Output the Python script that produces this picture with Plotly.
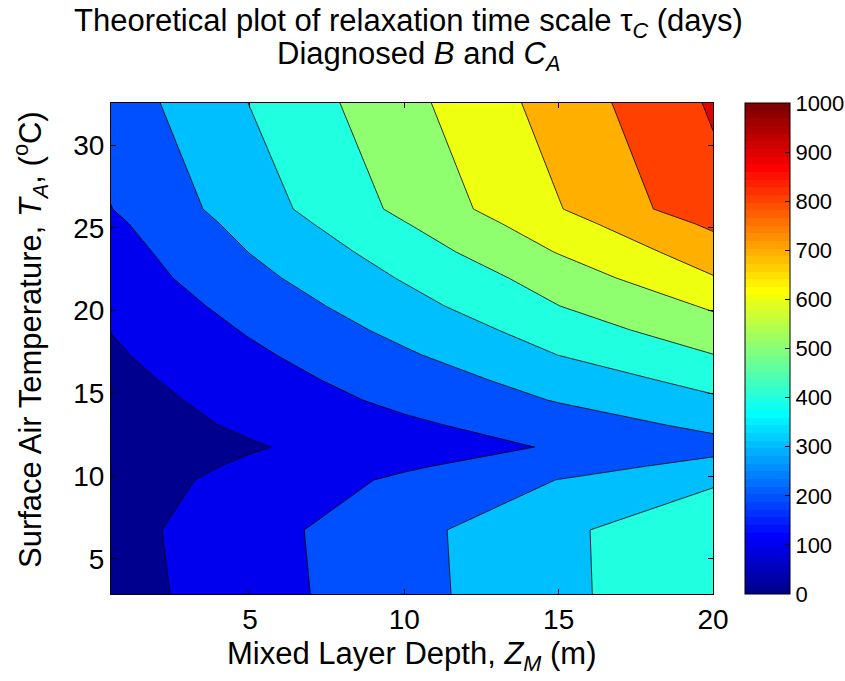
import plotly.graph_objects as go

# Grid columns: mixed layer depth Z_M (m)
zm = [0.5, 5, 10, 15, 20]
# Grid rows: surface air temperature T_A (deg C)
ta = [2.87, 6.74, 9.76, 10.60, 11.75, 13.08, 14.59, 15.80,
      17.32, 18.83, 20.28, 21.97, 23.54, 25.24, 26.14, 32.55]
# Relaxation time scale tau_C (days), one row per temperature
tau = [
    [58, 157, 267, 376, 486],
    [64, 162, 270, 378, 486],
    [53, 131, 217, 302, 384],
    [48, 114, 187, 259, 331],
    [40, 92, 151, 209, 267],
    [53, 114, 182, 251, 321],
    [60, 137, 223, 306, 385],
    [71, 157, 250, 341, 434],
    [87, 182, 287, 401, 498],
    [102, 209, 327, 447, 561],
    [120, 237, 365, 499, 612],
    [142, 272, 408, 544, 694],
    [157, 302, 447, 605, 750],
    [180, 333, 495, 660, 818],
    [198, 352, 523, 695, 866],
    [244, 402, 570, 741, 912],
]
level_start, level_end, level_step = 0, 1000, 100
x_ticks = [5, 10, 15, 20]
y_ticks = [5, 10, 15, 20, 25, 30]
cbar_ticks = list(range(0, 1001, 100))

FONT = "Liberation Sans, Arial, Helvetica, sans-serif"
W, H = 845, 681
ML, MR, MT, MB = 111, 132, 103, 87
PW, PH = W - ML - MR, H - MT - MB
CB_LEFT, CB_WIDTH = 745, 45


def jet(m=64):
    """MATLAB-style jet colormap with m entries, as (r, g, b) in 0..1."""
    q = m // 4
    cols = []
    for k in range(1, m + 1):
        if k <= q // 2:
            r, g, b = 0, 0, (q // 2 + k) / q
        elif k <= q // 2 + q:
            r, g, b = 0, (k - q // 2) / q, 1
        elif k <= q // 2 + 2 * q:
            t = (k - q // 2 - q) / q
            r, g, b = t, 1, 1 - t
        elif k <= q // 2 + 3 * q:
            r, g, b = 1, 1 - (k - q // 2 - 2 * q) / q, 0
        else:
            r, g, b = 1 - (k - q // 2 - 3 * q) / q, 0, 0
        cols.append((r, g, b))
    return cols


def rgb(c):
    return "rgb(%d,%d,%d)" % tuple(round(255 * v) for v in c)


def px_x(px):
    """Horizontal pixel position -> paper coordinate."""
    return (px - ML) / PW


def px_y(py):
    """Vertical pixel position (from top) -> paper coordinate."""
    return (H - MB - py) / PH


cmap = jet(64)

# Colour of each filled band = colormap entry at the band's lower level
levels = list(range(level_start, level_end, level_step))
band_cols = []
for lv in levels:
    idx = min(int((lv - level_start) / (level_end - level_start) * len(cmap)), len(cmap) - 1)
    band_cols.append(rgb(cmap[idx]))

# Piecewise-constant colour scale for the contour fills
# (bands are sampled at k/(n+1), k = 0..n+1, including the out-of-range bands)
fill_cols = [band_cols[0]] + band_cols + [rgb(cmap[-1])]
nb = len(fill_cols) - 1
fill_scale = []
for k, c in enumerate(fill_cols):
    lo = max(0.0, (k - 0.5) / nb)
    hi = min(1.0, (k + 0.5) / nb)
    fill_scale.append([lo, c])
    fill_scale.append([hi, c])

# Stepped 64-colour scale for the colour bar
bar_scale = []
for k, c in enumerate(cmap):
    bar_scale.append([k / len(cmap), rgb(c)])
    bar_scale.append([(k + 1) / len(cmap), rgb(c)])

fig = go.Figure()
fig.add_trace(go.Contour(
    x=zm, y=ta, z=tau,
    contours=dict(start=level_start, end=level_end, size=level_step,
                  coloring="fill", showlines=True),
    line=dict(color="black", width=0.8, smoothing=0),
    colorscale=fill_scale,
    showscale=False,
    hoverinfo="skip",
))

# Colour bar carried by an empty marker trace
fig.add_trace(go.Scatter(
    x=[None], y=[None], mode="markers", showlegend=False, hoverinfo="skip",
    marker=dict(color=[0], cmin=level_start, cmax=level_end,
                colorscale=bar_scale, showscale=True,
                colorbar=dict(
                    x=px_x(CB_LEFT), xanchor="left", xpad=0,
                    y=0.5, yanchor="middle", ypad=0,
                    len=1, lenmode="fraction", thickness=CB_WIDTH,
                    outlinecolor="black", outlinewidth=1,
                    tickvals=cbar_ticks, ticks="inside", ticklen=5,
                    tickcolor="black",
                    tickfont=dict(family=FONT, size=22, color="black"),
                )),
))

# Matching tick marks on the left edge of the colour bar
cb_shapes = []
for v in cbar_ticks[1:-1]:
    yv = (v - level_start) / (level_end - level_start)
    cb_shapes.append(dict(type="line", xref="paper", yref="paper",
                          x0=px_x(CB_LEFT), x1=px_x(CB_LEFT + 5), y0=yv, y1=yv,
                          line=dict(color="black", width=1)))

axis_common = dict(
    showgrid=False, zeroline=False, showline=True, linecolor="black",
    linewidth=1, mirror="ticks", ticks="inside", ticklen=5,
    tickcolor="black", tickfont=dict(family=FONT, size=28, color="black"),
)

TXT = 31
annotations = [
    dict(text="Theoretical plot of relaxation time scale \u03c4<sub><i>C</i></sub> (days)",
         x=px_x(408), y=px_y(1), yanchor="top"),
    dict(text="Diagnosed <i>B</i> and <i>C</i><sub><i>A</i></sub>",
         x=px_x(418), y=px_y(34), yanchor="top"),
    dict(text="Mixed Layer Depth, <i>Z</i><sub><i>M</i></sub> (m)",
         x=px_x(412), y=px_y(656), yanchor="middle"),
    dict(text="Surface Air Temperature, <i>T</i><sub><i>A</i></sub>, (<sup>o</sup>C)",
         x=px_x(30), y=px_y(340), yanchor="middle", textangle=-90),
]
for a in annotations:
    a.update(xref="paper", yref="paper", xanchor="center", showarrow=False,
             font=dict(family=FONT, size=TXT, color="black"))

fig.update_layout(
    width=W, height=H,
    margin=dict(l=ML, r=MR, t=MT, b=MB, autoexpand=False),
    paper_bgcolor="white", plot_bgcolor="white",
    font=dict(family=FONT, color="black"),
    annotations=annotations,
    shapes=cb_shapes,
    xaxis=dict(range=[0.5, 20], tickvals=x_ticks, **axis_common),
    yaxis=dict(range=[2.87, 32.55], tickvals=y_ticks, **axis_common),
)

fig.write_html("out.html")
